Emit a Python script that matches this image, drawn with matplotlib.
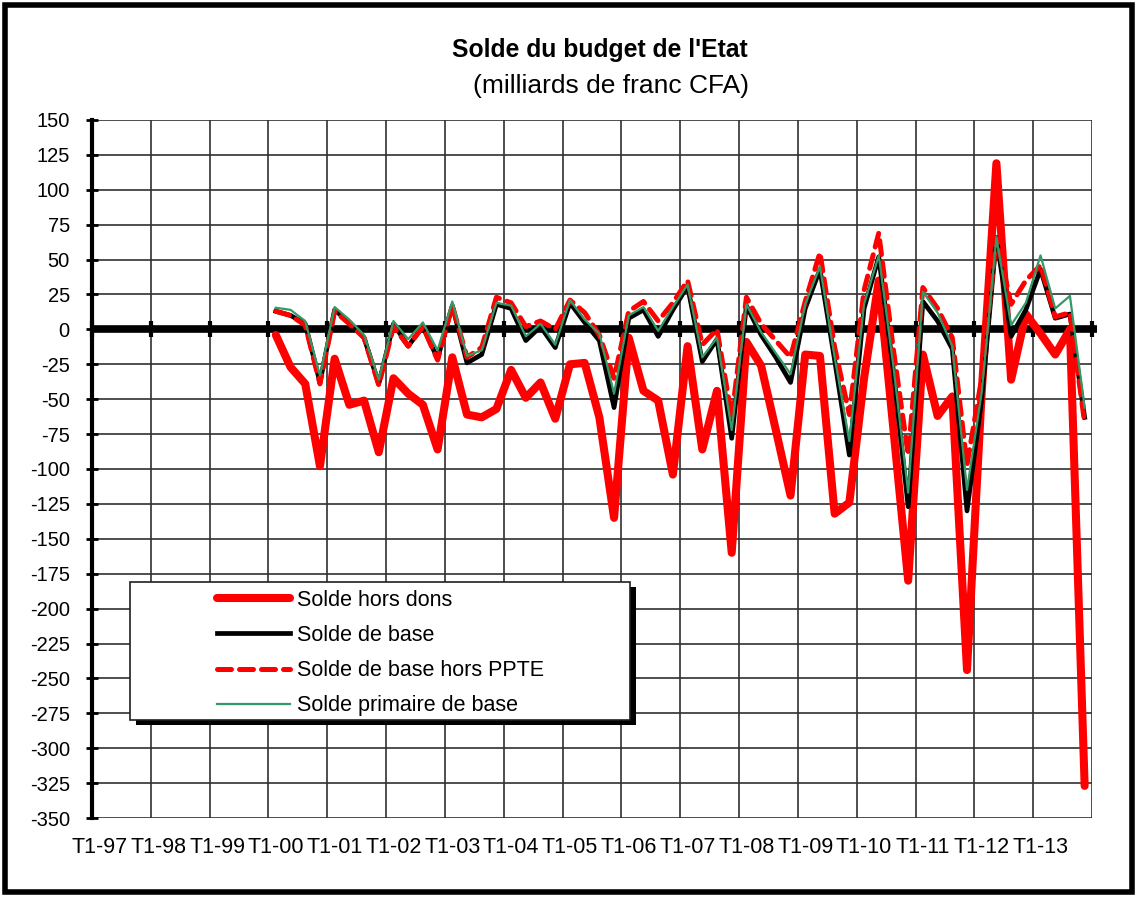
import numpy as np
import matplotlib.pyplot as plt
from matplotlib.patches import Rectangle

plt.rcParams['font.family'] = ['Liberation Sans', 'DejaVu Sans']
plt.rcParams['axes.unicode_minus'] = False

# quarterly categories T1-97 ... T4-13, series start at T1-00
years = ['97', '98', '99', '00', '01', '02', '03', '04', '05',
         '06', '07', '08', '09', '10', '11', '12', '13']
quarters = [f"T{q}-{y}" for y in years for q in range(1, 5)]
start = quarters.index('T1-00')

solde_hors_dons = [
    -4, -27, -39, -98, -21, -54, -51, -88, -35, -46, -54, -86,
    -20, -61, -63, -57, -29, -49, -38, -64, -25, -24, -63, -135,
    -6, -44, -51, -104, -12, -86, -44, -160, -9, -26, -72, -119,
    -18, -19, -132, -124, -35, 35, -72, -180, -18, -62, -48, -244,
    -45, 119, -36, 11, -3, -18, 0, -327]
solde_base = [
    13, 10, 4, -38, 14, 5, -6, -39, 4, -12, 2, -21,
    17, -24, -18, 18, 15, -8, 2, -13, 19, 5, -8, -56,
    8, 14, -5, 14, 31, -23, -7, -78, 17, -4, -20, -38,
    15, 43, -22, -90, 15, 52, -30, -127, 20, 6, -14, -130,
    -50, 66, -5, 14, 43, 8, 11, -63]
solde_base_hors_ppte = [
    13, 10, 3, -39, 13, 4, -6, -40, 2, -12, 2, -22,
    17, -20, -13, 23, 19, 2, 6, 0, 21, 12, -4, -35,
    13, 20, 6, 19, 35, -11, 0, -63, 23, 4, -8, -20,
    20, 55, -13, -61, 28, 69, -15, -90, 30, 15, -6, -97,
    -35, 66, 18, 35, 46, 9, 12, -67]
solde_primaire_base = [
    15.5, 14, 6, -33, 16, 7, -4, -36, 6, -7, 5, -15,
    20, -19, -15, 19, 17, -5, 4, -11, 21, 7, -3, -46,
    10, 16, -1, 16, 32, -20, -6, -72, 18, -2, -17, -32,
    18, 45, -20, -80, 18, 53, -27, -117, 27, 12, -12, -115,
    -45, 66, 3, 19, 53, 15, 24, -56]

W, H = 1137, 897
fig = plt.figure(figsize=(W / 100, H / 100), dpi=100)
ax = fig.add_axes([92 / W, 1 - 818 / H, 1000 / W, 698 / H])

x = np.arange(start, start + len(solde_hors_dons))

ax.plot(x, solde_hors_dons, color='#FF0000', lw=5.8, zorder=3,
        solid_joinstyle='round', solid_capstyle='round', label='Solde hors dons')
ax.plot(x, solde_base, color='black', lw=3.4, zorder=4,
        solid_joinstyle='round', label='Solde de base')
ax.plot(x, solde_base_hors_ppte, color='#FF0000', lw=3.6, zorder=5,
        dashes=(2.8, 1.6), dash_capstyle='round', label='Solde de base hors PPTE')
ax.plot(x, solde_primaire_base, color='#339966', lw=1.6, zorder=6,
        label='Solde primaire de base')

# axes, grid
n = len(quarters)
ax.set_xlim(-0.5, n - 0.5)
ax.set_ylim(-350, 150)
ax.set_yticks(np.arange(-350, 151, 25))
ax.set_xticks(np.arange(0, n, 4))
ax.set_xticklabels(quarters[::4], fontsize=15.5)
ax.set_xticks(np.arange(-0.5, n, 4), minor=True)
ax.tick_params(axis='x', which='both', length=0, pad=14)
ax.tick_params(axis='y', labelsize=14.5, direction='inout', length=8,
               width=2, pad=12)
ax.grid(True, which='minor', axis='x', color='#303030', lw=1.2)
ax.grid(True, which='major', axis='y', color='#303030', lw=1.2)
ax.set_axisbelow(True)
for s in ['top', 'right', 'bottom']:
    ax.spines[s].set_visible(False)
ax.spines['left'].set_linewidth(3)

# thick zero axis with year tick marks
ax.plot([-0.5, n - 0.15], [0, 0], color='black', lw=5.5, zorder=2,
        clip_on=False, solid_capstyle='butt')
ax.plot(np.arange(-0.5, n, 4), np.zeros(len(np.arange(-0.5, n, 4))),
        ls='none', marker='|', ms=12, mew=3, color='black', zorder=2,
        clip_on=False)

# legend box with shadow
ax.add_patch(Rectangle((136 / W, 1 - 725 / H), 500 / W, 138 / H,
                       transform=fig.transFigure, fc='black', ec='none',
                       zorder=7, clip_on=False))
ax.add_patch(Rectangle((130 / W, 1 - 720 / H), 500 / W, 138 / H,
                       transform=fig.transFigure, fc='white', ec='#202020',
                       lw=1.2, zorder=8, clip_on=False))
leg = ax.legend(loc='upper left', bbox_to_anchor=(0.125, 0.327),
                frameon=False, fontsize=15.5, handlelength=3.4,
                handletextpad=0.3, labelspacing=0.66, borderpad=0,
                borderaxespad=0)
leg.set_zorder(9)

fig.text(600 / W, 1 - 50 / H, "Solde du budget de l'Etat", fontsize=17.8,
         weight='bold', ha='center', va='center')
fig.text(611 / W, 1 - 86 / H, "(milliards de franc CFA)", fontsize=19,
         ha='center', va='center')

# outer frame
fig.patches.append(Rectangle((5 / W, 5 / H), 1 - 10 / W, 1 - 10 / H,
                             transform=fig.transFigure, fill=False,
                             ec='black', lw=4))

fig.savefig('out.png', dpi=100)
